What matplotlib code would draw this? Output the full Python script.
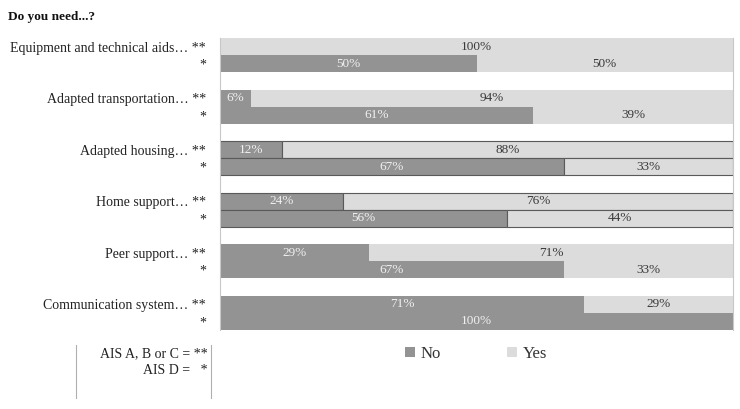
import matplotlib
matplotlib.use("Agg")
import matplotlib.pyplot as plt
from matplotlib.patches import Patch
import numpy as np

categories = ["Equipment and technical aids…", "Adapted transportation…", "Adapted housing…",
              "Home support…", "Peer support…", "Communication system…"]
no_abc = [0, 6, 12, 24, 29, 71]
yes_abc = [100, 94, 88, 76, 71, 29]
no_d = [50, 61, 67, 56, 67, 100]
yes_d = [50, 39, 33, 44, 33, 0]

DARK = "#939393"
LIGHT = "#dcdcdc"
plt.rcParams['font.family'] = ['Liberation Serif', 'DejaVu Serif']

fig = plt.figure(figsize=(7.4, 4.09), dpi=100)
ax = fig.add_axes([220/740, 1-330/409, (733-220)/740, (330-38)/409])

edged = [False, False, True, True, False, False]
n = len(categories)
y_abc = np.arange(n) * 3 + 0.5
y_d = np.arange(n) * 3 + 1.5

def draw(yv, nos, yess):
    for i in range(n):
        ec = "#5a5a5a" if edged[i] else "none"
        lw = 0.8 if edged[i] else 0
        ax.barh(yv[i], nos[i], height=1.0, left=0, color=DARK, edgecolor=ec, linewidth=lw)
        ax.barh(yv[i], yess[i], height=1.0, left=nos[i], color=LIGHT, edgecolor=ec, linewidth=lw)
        if nos[i] > 0:
            ax.text(nos[i] / 2, yv[i], f"{nos[i]}%", ha="center", va="center",
                    color="#f0f0f0", fontsize=9.5)
        if yess[i] > 0:
            ax.text(nos[i] + yess[i] / 2, yv[i], f"{yess[i]}%", ha="center", va="center",
                    color="#3a3a3a", fontsize=9.5)

draw(y_abc, no_abc, yes_abc)
draw(y_d, no_d, yes_d)

ax.set_xlim(0, 100)
ax.set_ylim(17, 0)
ticks = list(y_abc) + list(y_d)
labels = [f"{c} **" for c in categories] + ["*"] * n
ax.set_yticks(ticks)
ax.set_yticklabels(labels, fontsize=10, color="#222222")
ax.tick_params(axis="y", length=0, pad=10)
ax.set_xticks([])
for s in ["top", "bottom"]:
    ax.spines[s].set_visible(False)
for s in ["left", "right"]:
    ax.spines[s].set_color("#c8c8c8")
    ax.spines[s].set_linewidth(0.8)

fig.text(8/740, 1-17/409, "Do you need...?", fontsize=9.5, fontweight="bold",
         ha="left", va="center", color="#111111")

# legend
handles = [Patch(facecolor=DARK, edgecolor="none", label="No"),
           Patch(facecolor=LIGHT, edgecolor="none", label="Yes")]
fig.legend(handles=handles, loc="center", bbox_to_anchor=(476/740, 1-354/409), ncol=2,
           frameon=False, fontsize=12, handlelength=0.6, handleheight=0.6,
           handletextpad=0.3, columnspacing=4.0, labelcolor="#333333")

# key box
fig.add_artist(plt.Line2D([76/740, 76/740], [1-345/409, 1-398/409], color="#b0b0b0", lw=0.8))
fig.add_artist(plt.Line2D([211/740, 211/740], [1-345/409, 1-398/409], color="#b0b0b0", lw=0.8))
fig.text(208/740, 1-354/409, "AIS A, B or C = **", fontsize=10, ha="right", va="center", color="#222222")
fig.text(208/740, 1-370/409, "AIS D =   *", fontsize=10, ha="right", va="center", color="#222222")

fig.savefig("out.png", dpi=100)
